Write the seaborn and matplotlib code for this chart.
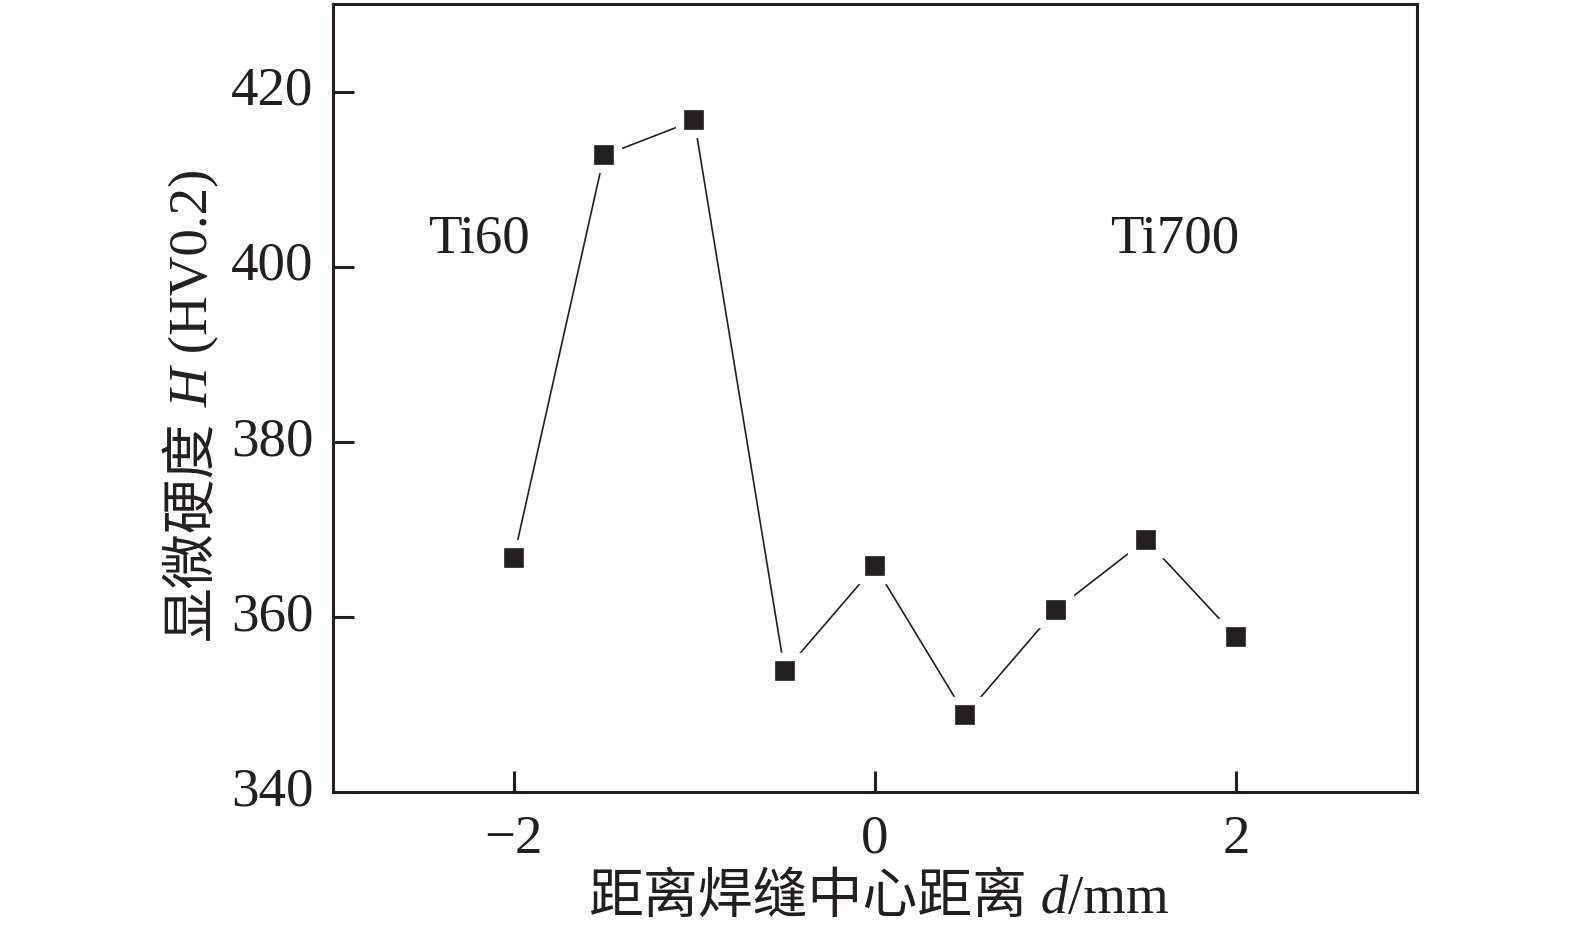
import matplotlib
matplotlib.use("Agg")
import matplotlib.pyplot as plt
import seaborn as sns
import pandas as pd

distance = [-2, -1.5, -1, -0.5, 0, 0.5, 1, 1.5, 2]
hardness = [366.7, 412.7, 416.7, 353.8, 365.8, 348.8, 360.8, 368.8, 357.7]
xticks = [-2, 0, 2]
xticklabels = ['\u22122', '0', '2']
yticks = [340, 360, 380, 400, 420]
xlabel_parts = ['距离焊缝中心距离', ' d', '/mm']
ylabel_parts = ['显微硬度', ' H', ' (HV0.2)']
region_labels = ['Ti60', 'Ti700']

sns.set_theme(style="ticks")
plt.rcParams['font.family'] = ['Liberation Serif', 'Noto Sans CJK SC']

W, H = 1575, 935
ink = '#231f20'
FS = 39.5
fig = plt.figure(figsize=(W / 100, H / 100), dpi=100)
ax = fig.add_axes([333 / W, 1 - 792 / H, (1417 - 333) / W, (792 - 4) / H])

df = pd.DataFrame({'d': distance, 'H': hardness})
sns.lineplot(data=df, x='d', y='H', ax=ax, color=ink, linewidth=1.2,
             marker='s', markersize=20, markerfacecolor=ink,
             markeredgecolor='white', markeredgewidth=6)

ax.set_xlim(-3, 3)
ax.set_ylim(340, 430)
ax.set_xticks(xticks)
ax.set_xticklabels(xticklabels)
ax.set_yticks(yticks)
for s in ax.spines.values():
    s.set_linewidth(2.2)
    s.set_color(ink)
ax.tick_params(direction='in', length=15, width=2.2, color=ink,
               labelsize=FS, labelcolor=ink, top=False, right=False)
ax.tick_params(axis='y', pad=14)
ax.tick_params(axis='x', pad=16)
for lab in ax.get_yticklabels():
    lab.set_va('center')
ax.set_xlabel('')
ax.set_ylabel('')

# x label, composed of pieces so CJK and italic Latin both render
styles = ['normal', 'italic', 'normal']
prev = fig.text(588 / W, 1 - 913 / H, xlabel_parts[0], fontsize=FS, color=ink,
                ha='left', va='baseline')
for part, st in zip(xlabel_parts[1:], styles[1:]):
    prev = ax.annotate(part, xy=(1, 1 - 913 / H), xycoords=(prev, fig.transFigure),
                       fontsize=FS, color=ink, fontstyle=st, ha='left',
                       va='baseline', annotation_clip=False)

# y label
yx = 207 / W
prev = fig.text(yx, 1 - 640 / H, ylabel_parts[0], fontsize=FS, color=ink,
                rotation=90, rotation_mode='anchor', ha='left', va='baseline')
for part, st in zip(ylabel_parts[1:], styles[1:]):
    prev = ax.annotate(part, xy=(yx, 1), xycoords=(fig.transFigure, prev),
                       fontsize=FS, color=ink, fontstyle=st, rotation=90,
                       rotation_mode='anchor', ha='left', va='baseline',
                       annotation_clip=False)

ax.text(-2.19, 403.1, region_labels[0], fontsize=FS, color=ink, ha='center', va='center')
ax.text(1.66, 403.1, region_labels[1], fontsize=FS, color=ink, ha='center', va='center')

fig.savefig('out.png', dpi=100)
